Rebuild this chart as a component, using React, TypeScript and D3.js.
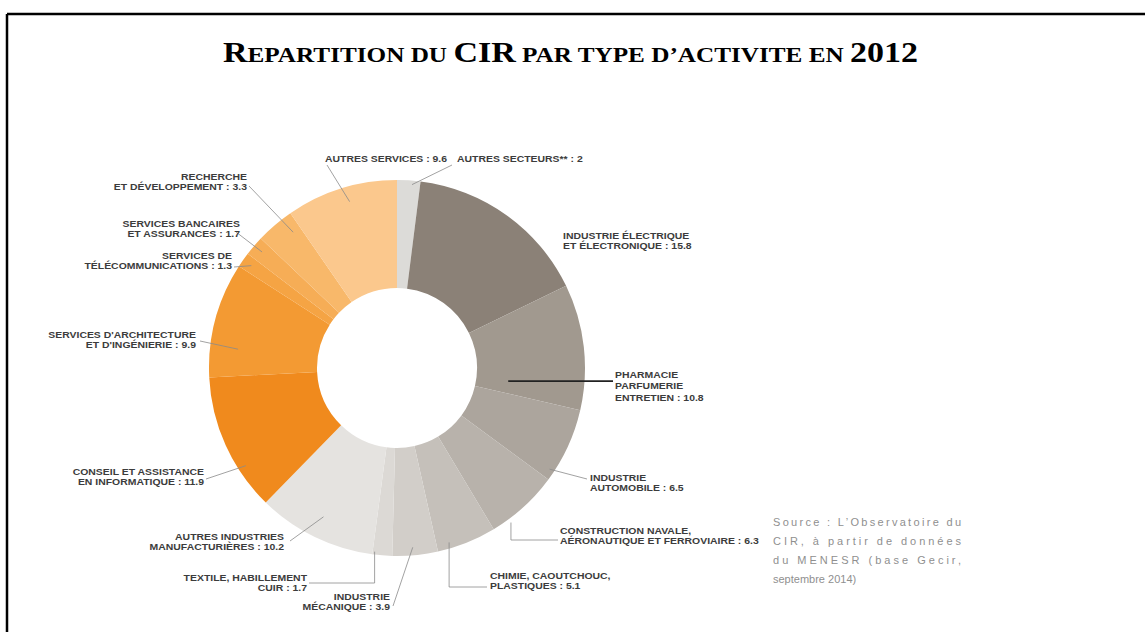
import React from 'react';
import * as d3 from 'd3';

// ---- data ----
const categoryLines: string[][] = [
  ['AUTRES SECTEURS**'],
  ['INDUSTRIE ÉLECTRIQUE', 'ET ÉLECTRONIQUE'],
  ['PHARMACIE', 'PARFUMERIE', 'ENTRETIEN'],
  ['INDUSTRIE', 'AUTOMOBILE'],
  ['CONSTRUCTION NAVALE,', 'AÉRONAUTIQUE ET FERROVIAIRE'],
  ['CHIMIE, CAOUTCHOUC,', 'PLASTIQUES'],
  ['INDUSTRIE', 'MÉCANIQUE'],
  ['TEXTILE, HABILLEMENT', 'CUIR'],
  ['AUTRES INDUSTRIES', 'MANUFACTURIÈRES'],
  ['CONSEIL ET ASSISTANCE', 'EN INFORMATIQUE'],
  ["SERVICES D'ARCHITECTURE", "ET D'INGÉNIERIE"],
  ['SERVICES DE', 'TÉLÉCOMMUNICATIONS'],
  ['SERVICES BANCAIRES', 'ET ASSURANCES'],
  ['RECHERCHE', 'ET DÉVELOPPEMENT'],
  ['AUTRES SERVICES'],
];
const values: number[] = [2, 15.8, 10.8, 6.5, 6.3, 5.1, 3.9, 1.7, 10.2, 11.9, 9.9, 1.3, 1.7, 3.3, 9.6];
const valueLabels: string[] = ['2', '15.8', '10.8', '6.5', '6.3', '5.1', '3.9', '1.7', '10.2', '11.9', '9.9', '1.3', '1.7', '3.3', '9.6'];
const sliceColors: string[] = [
  '#dcdbd8', '#8b8177', '#a1998f', '#aca59d', '#b8b2ab', '#c5c0ba', '#d2cec9', '#dcd9d5', '#e5e3e0',
  '#f08a1d', '#f39a33', '#f5a444', '#f6ad56', '#f8b86a', '#fbc88d',
];
const titleParts: { text: string; big: boolean }[] = [
  { text: 'R', big: true },
  { text: 'EPARTITION DU ', big: false },
  { text: 'CIR', big: true },
  { text: ' PAR TYPE D’ACTIVITE EN ', big: false },
  { text: '2012', big: true },
];
const sourceLines: string[] = [
  'Source : L’Observatoire du',
  'CIR, à partir de données',
  'du MENESR (base Gecir,',
  'septembre 2014)',
];

// ---- layout (label placement, not data) ----
type LabelPos = {
  x: number; y: number; anchor: 'start' | 'end';
  sx?: number; sy?: number; elbow?: boolean; t?: number; r?: number; dark?: boolean; lh?: number;
};
const labelLayout: LabelPos[] = [
  { x: 457, y: 162, anchor: 'start', sx: 452, sy: 165, t: 0.65, r: 184 },
  { x: 563, y: 239, anchor: 'start' },
  { x: 615, y: 378, anchor: 'start', sx: 613, t: 0.84, r: 112, dark: true, lh: 11.5 },
  { x: 590, y: 481, anchor: 'start', sx: 587, sy: 479, t: 0.88, r: 183 },
  { x: 560, y: 534, anchor: 'start', sx: 558, sy: 540, elbow: true, t: 0.76, r: 192 },
  { x: 490, y: 579, anchor: 'start', sx: 487, sy: 587, elbow: true, t: 0.78, r: 182 },
  { x: 390, y: 600, anchor: 'end', sx: 393, sy: 606, t: 0.54, r: 180 },
  { x: 307, y: 581, anchor: 'end', sx: 309, sy: 583, elbow: true, t: 0.9, r: 185 },
  { x: 284, y: 540, anchor: 'end', sx: 290, sy: 541, t: 0.51, r: 166 },
  { x: 204, y: 475, anchor: 'end', sx: 206, sy: 479, t: 0.3, r: 180 },
  { x: 196, y: 338, anchor: 'end', sx: 200, sy: 341, t: 0.27, r: 160 },
  { x: 232, y: 259, anchor: 'end', sx: 234, sy: 267, t: 0.5, r: 178 },
  { x: 240, y: 227, anchor: 'end', sx: 236, sy: 232, t: 0.53, r: 178 },
  { x: 247, y: 180, anchor: 'end', sx: 249, sy: 186, t: 0.76, r: 171 },
  { x: 325, y: 162, anchor: 'start', sx: 327, sy: 165, t: 0.54, r: 173 },
];

const W = 1145;
const H = 632;
const cx = 397;
const cy = 368;
const outerR = 188;
const innerR = 80;
const labelScaleX = 1.16;

export default function App() {
  const pie = d3.pie<number>().value((d) => d).sort(null).startAngle(0).endAngle(2 * Math.PI);
  const arcs = pie(values);
  const arcGen = d3.arc<d3.PieArcDatum<number>>().innerRadius(innerR).outerRadius(outerR);
  const labelFont = "'Liberation Sans', Arial, sans-serif";

  const pt = (a: number, rr: number): [number, number] => [cx + rr * Math.sin(a), cy - rr * Math.cos(a)];

  return (
    <svg width={W} height={H} style={{ position: 'absolute', left: 0, top: 0, background: '#fff' }}>
      <rect x={0} y={0} width={W} height={H} fill="#fff" />
      {/* frame */}
      <line x1={7} y1={14} x2={W} y2={14} stroke="#000" strokeWidth={2.5} />
      <line x1={7} y1={14} x2={7} y2={H} stroke="#000" strokeWidth={2.5} />
      {/* title */}
      <text x={223} y={62} textAnchor="start" textLength={695} lengthAdjust="spacingAndGlyphs"
        fontFamily="'Liberation Serif', 'Times New Roman', serif" fontWeight="bold" fill="#000">
        {titleParts.map((p, i) => (
          <tspan key={i} fontSize={p.big ? 29 : 21.5}>{p.text}</tspan>
        ))}
      </text>
      {/* donut */}
      <g transform={`translate(${cx},${cy})`}>
        {arcs.map((a, i) => (
          <path key={i} d={arcGen(a) || ''} fill={sliceColors[i]} />
        ))}
      </g>
      {/* leader lines */}
      {arcs.map((a, i) => {
        const L = labelLayout[i];
        if (L.t === undefined || L.r === undefined) return null;
        const ang = a.startAngle + (a.endAngle - a.startAngle) * L.t;
        const [ex, ey] = pt(ang, L.r);
        const sx = L.sx ?? L.x;
        const sy = L.sy ?? ey;
        const pts: [number, number][] = [[sx, sy]];
        if (L.elbow) pts.push([ex, sy]);
        pts.push([ex, ey]);
        const line = d3.line()(pts) || '';
        return (
          <path key={`l${i}`} d={line} fill="none" stroke={L.dark ? '#222' : '#8a8a8a'} strokeWidth={L.dark ? 1.6 : 0.8} />
        );
      })}
      {/* labels */}
      {categoryLines.map((lines, i) => {
        const L = labelLayout[i];
        const lh = L.lh ?? 10.5;
        return (
          <text key={`t${i}`} transform={`translate(${L.x},${L.y}) scale(${labelScaleX},1)`} textAnchor={L.anchor}
            fontFamily={labelFont} fontSize={9} fontWeight="bold" fill="#3c3c3c">
            {lines.map((ln, j) => (
              <tspan key={j} x={0} y={j * lh}>
                {j === lines.length - 1 ? `${ln} : ${valueLabels[i]}` : ln}
              </tspan>
            ))}
          </text>
        );
      })}
      {/* source */}
      {sourceLines.map((s, i) => (
        <text key={`s${i}`} x={773} y={526 + i * 19} fontFamily="'Liberation Sans', Arial, sans-serif" fontSize={11} fill="#8f8f8f"
          textLength={i < sourceLines.length - 1 ? 188 : undefined} lengthAdjust="spacing">
          {s}
        </text>
      ))}
    </svg>
  );
}
